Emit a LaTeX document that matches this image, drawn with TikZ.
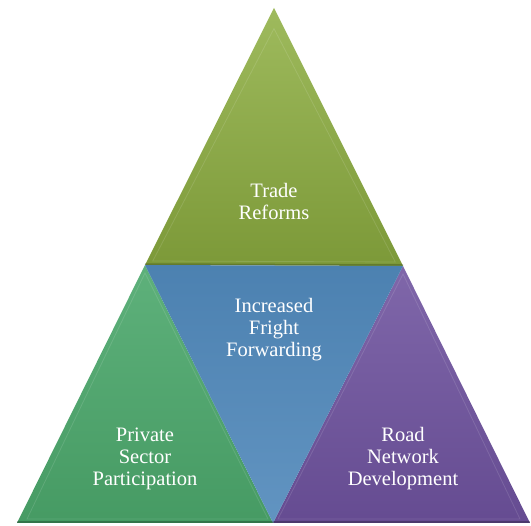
\documentclass[tikz,border=0pt]{standalone}
\usepackage{fontspec}
\setmainfont{Liberation Serif}
\usetikzlibrary{calc}
\definecolor{topgreen}{HTML}{8DAE40}
\definecolor{midblue}{HTML}{5088BA}
\definecolor{leftgreen}{HTML}{4CA86C}
\definecolor{rightpurple}{HTML}{6E529E}
\tikzset{
	label text/.style={text=white, align=center, font=\fontsize{20.5}{22}\selectfont},
	bevel/.style={draw=white, draw opacity=0.12, line width=0.8pt},
}
\begin{document}
\begin{tikzpicture}[x=1pt, y=-1pt]
		%%%%% START %%%%%
		\useasboundingbox (0, 0) rectangle (531, 526);
		
		\coordinate (apex) at (274, 8);
		\coordinate (midleft) at (145, 265);
		\coordinate (midright) at (403, 266);
		\coordinate (baseleft) at (17, 523);
		\coordinate (basemid) at (273, 523);
		\coordinate (baseright) at (530, 523);
		
		\shade[top color=topgreen!85!white, bottom color=topgreen!88!black] (apex) -- (midleft) -- (midright) -- cycle;
		\shade[top color=leftgreen!90!white, bottom color=leftgreen!92!black] (midleft) -- (baseleft) -- (basemid) -- cycle;
		\shade[top color=rightpurple!88!white, bottom color=rightpurple!92!black] (midright) -- (basemid) -- (baseright) -- cycle;
		\shade[top color=midblue!95!black, bottom color=midblue!90!white] (midleft) -- (midright) -- (basemid) -- cycle;
		
		\draw[bevel] ($(apex)!0.04!(basemid)$) -- ($(midleft)!0.03!(midright)+(0,-4)$) -- ($(midright)!0.03!(midleft)+(0,-4)$) -- cycle;
		\draw[bevel] ($(midleft)+(0,8)$) -- ($(baseleft)+(10,-4)$) -- ($(basemid)+(-5,-4)$) -- cycle;
		\draw[bevel] ($(midright)+(0,8)$) -- ($(basemid)+(5,-4)$) -- ($(baseright)+(-10,-4)$) -- cycle;
		
		\draw[black, opacity=0.25, line width=1.5pt] ($(baseleft)+(0,-1)$) -- ($(baseright)+(0,-1)$);
		\draw[black, opacity=0.2, line width=1.5pt] ($(midleft)+(0,-1)$) -- ($(midright)+(0,-1)$);
		
		\node[label text] (trade) at (274, 201) {Trade\\Reforms};
		\node[label text] (freight) at (274, 330) {Increased\\Fright\\Forwarding};
		\node[label text] (private) at (145, 459) {Private\\Sector\\Participation};
		\node[label text] (road) at (403, 459) {Road\\Network\\Development};
		
		%%%%% END %%%%%
	\end{tikzpicture}
\end{document}
